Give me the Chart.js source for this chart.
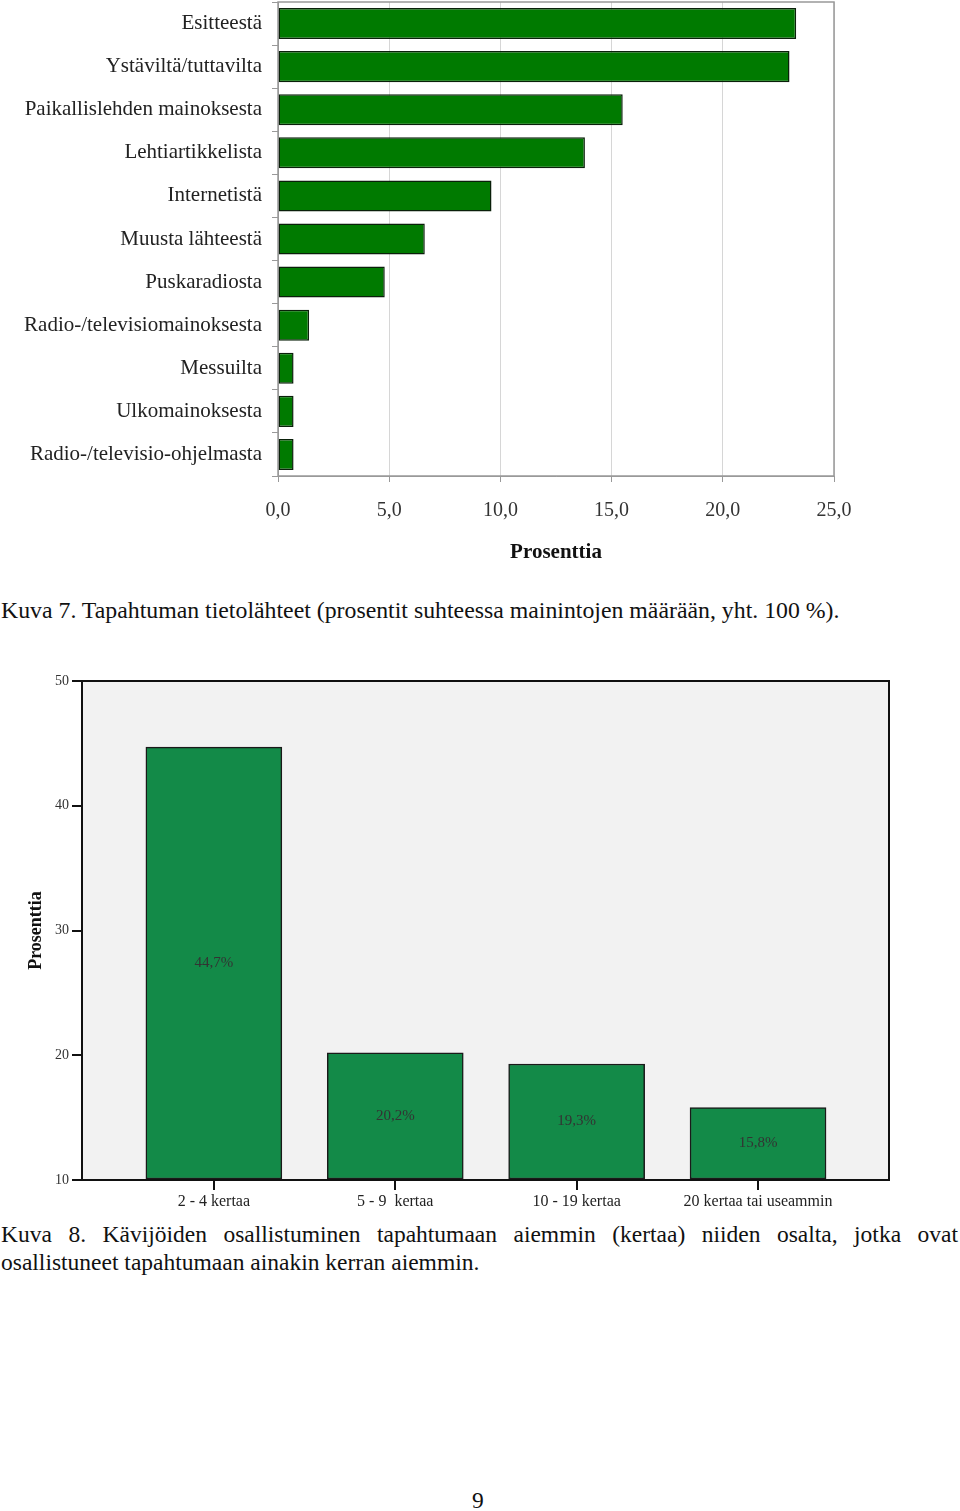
<!DOCTYPE html>
<html>
<head>
<meta charset="utf-8">
<script src="https://cdn.jsdelivr.net/npm/chart.js@4.4.0/dist/chart.umd.min.js"></script>
<style>
  body { margin: 0; background: #fff; width: 960px; height: 1511px; position: relative; overflow: hidden;
         font-family: "Liberation Serif", "DejaVu Serif", serif; color: #111; }
  .box { position: absolute; }
  .cap { position: absolute; left: 1px; font-size: 23.5px; line-height: 28px; white-space: nowrap; }
  .just { text-align: justify; text-align-last: justify; width: 957px; white-space: normal; }
</style>
</head>
<body>
<div class="box" style="left:0;top:0;width:870px;height:572px"><canvas id="c1"></canvas></div>
<div class="cap" style="top:596px;font-size:23.8px">Kuva 7. Tapahtuman tietolähteet (prosentit suhteessa mainintojen määrään, yht. 100 %).</div>
<div class="box" style="left:0;top:665px;width:960px;height:550px"><canvas id="c2"></canvas></div>
<div class="cap just" style="top:1220px">Kuva 8. Kävijöiden osallistuminen tapahtumaan aiemmin (kertaa) niiden osalta, jotka ovat</div>
<div class="cap" style="top:1248px">osallistuneet tapahtumaan ainakin kerran aiemmin.</div>
<div class="cap" style="top:1486px;left:472px">9</div>
<script>
// Kuva 7 - tietolähteet
const lahteet = ['Esitteestä', 'Ystäviltä/tuttavilta', 'Paikallislehden mainoksesta', 'Lehtiartikkelista',
  'Internetistä', 'Muusta lähteestä', 'Puskaradiosta', 'Radio-/televisiomainoksesta', 'Messuilta',
  'Ulkomainoksesta', 'Radio-/televisio-ohjelmasta'];
const lahdeProsentit = [23.3, 23.0, 15.5, 13.8, 9.6, 6.6, 4.8, 1.4, 0.7, 0.7, 0.7];

// Kuva 8 - osallistumiskerrat
const kerrat = ['2 - 4 kertaa', '5 - 9  kertaa', '10 - 19 kertaa', '20 kertaa tai useammin'];
const kerratProsentit = [44.7, 20.2, 19.3, 15.8];
const yTicks2 = [10, 20, 30, 40, 50];

const serif = '"Liberation Serif", "DejaVu Serif", serif';
const fmt = v => v.toFixed(1).replace('.', ',');

// kehys ja tausta piirtoalueelle
const framePlugin = {
  id: 'frame',
  beforeDraw(chart, args, opts) {
    const a = chart.chartArea, ctx = chart.ctx;
    if (opts.bg) { ctx.save(); ctx.fillStyle = opts.bg; ctx.fillRect(a.left, a.top, a.width, a.height); ctx.restore(); }
  },
  afterDraw(chart, args, opts) {
    const a = chart.chartArea, ctx = chart.ctx;
    ctx.save();
    ctx.strokeStyle = opts.color || '#999';
    ctx.lineWidth = opts.width || 1;
    ctx.strokeRect(a.left, a.top, a.width, a.height);
    ctx.restore();
  }
};

// prosenttiluvut pylväiden keskelle
const barLabels = {
  id: 'barLabels',
  afterDatasetsDraw(chart, args, opts) {
    if (!opts.show) return;
    const ctx = chart.ctx;
    const meta = chart.getDatasetMeta(0);
    ctx.save();
    ctx.font = '15px ' + serif;
    ctx.fillStyle = '#333';
    ctx.textAlign = 'center';
    ctx.textBaseline = 'middle';
    meta.data.forEach((bar, i) => {
      const v = kerratProsentit[i];
      ctx.fillText(fmt(v) + '%', bar.x, (bar.y + bar.base) / 2);
    });
    ctx.restore();
  }
};

new Chart(document.getElementById('c1'), {
  type: 'bar',
  plugins: [framePlugin],
  data: {
    labels: lahteet,
    datasets: [{
      data: lahdeProsentit,
      backgroundColor: '#007a00',
      borderColor: '#0a200a',
      borderWidth: 1.5,
      borderSkipped: false,
      barPercentage: 0.72,
      categoryPercentage: 1
    }]
  },
  options: {
    indexAxis: 'y',
    responsive: true,
    maintainAspectRatio: false,
    animation: false,
    layout: { padding: { top: 2, right: 36, bottom: 7, left: 0 } },
    plugins: { legend: { display: false }, tooltip: { enabled: false }, frame: { color: '#999', width: 1.5 } },
    scales: {
      x: {
        min: 0, max: 25,
        ticks: { stepSize: 5, callback: v => fmt(v), color: '#333', font: { family: serif, size: 20 }, padding: 17 },
        grid: { color: '#d6d6d6', tickLength: 6, tickColor: '#999' },
        border: { color: '#999' },
        title: { display: true, text: 'Prosenttia', color: '#111', font: { family: serif, size: 21, weight: 'bold' }, padding: { top: 4, bottom: 0 } },
        afterFit: s => { s.height = 89; }
      },
      y: {
        ticks: { color: '#222', font: { family: serif, size: 21 }, padding: 10 },
        grid: { drawOnChartArea: false, tickLength: 6, color: '#999' },
        border: { color: '#999' },
        afterFit: s => { s.width = 278; s.paddingTop = 0; s.paddingBottom = 0; }
      }
    }
  }
});

new Chart(document.getElementById('c2'), {
  type: 'bar',
  plugins: [framePlugin, barLabels],
  data: {
    datasets: [{
      data: kerratProsentit.map((v, i) => ({ x: i + 1, y: v })),
      base: 10,
      backgroundColor: '#138a48',
      borderColor: '#1a1a1a',
      borderWidth: 1.5,
      borderSkipped: false,
      barThickness: 136
    }]
  },
  options: {
    responsive: true,
    maintainAspectRatio: false,
    animation: false,
    layout: { padding: { top: 16, right: 71, bottom: 0, left: 0 } },
    plugins: { legend: { display: false }, tooltip: { enabled: false },
      frame: { color: '#111', width: 2, bg: '#f2f2f2' }, barLabels: { show: true } },
    scales: {
      x: {
        type: 'linear',
        min: 0.273, max: 4.722,
        offset: false,
        afterBuildTicks: s => { s.ticks = kerrat.map((k, i) => ({ value: i + 1 })); },
        ticks: { callback: v => kerrat[v - 1], color: '#222', font: { family: serif, size: 16 }, padding: 2 },
        grid: { offset: false, drawOnChartArea: false, tickLength: 10, color: '#111', lineWidth: 2 },
        border: { color: '#111', width: 2 },
        afterFit: s => { s.height = 35; s.paddingLeft = 0; s.paddingRight = 0; }
      },
      y: {
        min: 10, max: 50,
        afterBuildTicks: s => { s.ticks = yTicks2.map(v => ({ value: v })); },
        ticks: { color: '#333', font: { family: serif, size: 14 }, padding: 3 },
        grid: { drawOnChartArea: false, tickLength: 10, color: '#111', lineWidth: 2 },
        border: { color: '#111', width: 2 },
        title: { display: true, text: 'Prosenttia', color: '#111', font: { family: serif, size: 18, weight: 'bold' }, padding: { top: 26, bottom: 0 } },
        afterFit: s => { s.width = 82; }
      }
    }
  }
});
</script>
</body>
</html>
